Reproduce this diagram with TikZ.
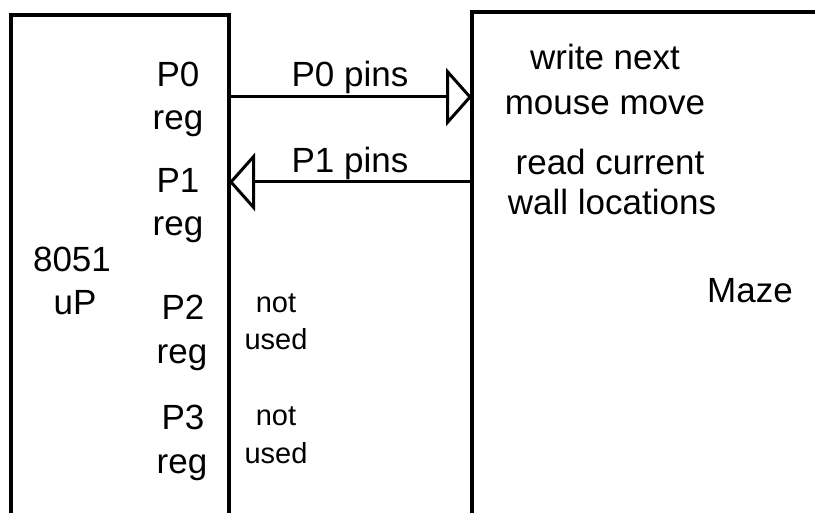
\documentclass[tikz,border=0pt]{standalone}
\usepackage{fontspec}
\setmainfont{Liberation Sans}
\usetikzlibrary{arrows.meta}

\tikzset{
  lbl/.style={anchor=base, inner sep=0pt, font=\fontsize{35}{40}\selectfont},
  small/.style={anchor=base, inner sep=0pt, font=\fontsize{29}{34}\selectfont},
  pin/.style={line width=3pt, -{Triangle[open, length=26pt, width=58pt]}}
}

\begin{document}
\begin{tikzpicture}[x=1pt, y=-1pt, line cap=round]

\useasboundingbox (0,0) rectangle (815,513) ;

\draw[line width=4pt, line cap=butt] (11,513) -- (11,15) -- (229,15) -- (229,513) ;
\draw[line width=4pt, line cap=butt] (472,513) -- (472,12) -- (815,12) ;

\coordinate (p0out) at (229,97) ;
\coordinate (p0in)  at (472,97) ;
\coordinate (p1out) at (472,182) ;
\coordinate (p1in)  at (229,182) ;

\draw[pin] (p0out) -- (p0in) ;
\draw[pin] (p1out) -- (p1in) ;

\node[lbl] (pzero) at (178,87) {P0} ;
\node[lbl] (regzero) at (178,130) {reg} ;
\node[lbl] (pone) at (178,193) {P1} ;
\node[lbl] (regone) at (178,236) {reg} ;
\node[lbl] (chip) at (72,272) {8051} ;
\node[lbl] (up) at (75,315) {uP} ;
\node[lbl] (ptwo) at (183,320) {P2} ;
\node[lbl] (regtwo) at (182,363) {reg} ;
\node[lbl] (pthree) at (183,430) {P3} ;
\node[lbl] (regthree) at (182,473) {reg} ;

\node[small] (nottwo) at (276,313) {not} ;
\node[small] (usedtwo) at (276,350) {used} ;
\node[small] (notthree) at (276,425) {not} ;
\node[small] (usedthree) at (276,463) {used} ;

\node[lbl] (pinszero) at (350,87) {P0 pins} ;
\node[lbl] (pinsone) at (350,173) {P1 pins} ;

\node[lbl] (write) at (605,70) {write next} ;
\node[lbl] (move) at (605,115) {mouse move} ;
\node[lbl] (read) at (610,175) {read current} ;
\node[lbl] (walls) at (612,215) {wall locations} ;
\node[lbl] (maze) at (750,303) {Maze} ;

\end{tikzpicture}
\end{document}
